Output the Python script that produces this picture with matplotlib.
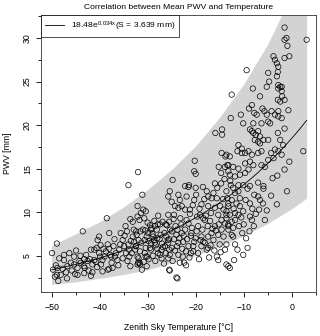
import numpy as np
import matplotlib
matplotlib.use("Agg")
import matplotlib.pyplot as plt
from matplotlib.ticker import MultipleLocator

plt.rcParams['font.family'] = ['Liberation Sans', 'DejaVu Sans']
plt.rcParams['mathtext.default'] = 'regular'

# ---- data ----
points = [
    (-32.0,14.6),(-34.0,13.1),(-38.5,9.3),(-43.5,7.8),(-48.9,6.4),(-49.9,5.3),(-47.4,5.1),(-48.4,4.7),(-44.9,5.6),
    (-49.1,3.9),(-49.7,3.4),(-48.9,2.8),(-49.3,2.6),(-48.6,2.1),(-48.1,2.8),(-46.8,2.4),(-48.8,3.6),(-47.7,3.5),
    (-46.7,3.8),(-45.8,3.3),(-45.3,4.0),(-44.6,3.6),(-43.9,4.2),(-43.3,3.8),(-43.1,3.6),(-42.5,4.4),(-42.0,4.6),
    (-41.5,4.0),(-41.1,4.5),(-41.8,2.7),(-41.5,3.1),(-41.1,5.7),(-40.6,5.9),(-40.1,5.3),(-39.9,4.9),(-39.7,4.0),
    (-39.4,4.5),(-39.0,4.9),(-38.7,5.5),(-38.3,6.3),(-38.0,5.8),(-38.0,7.6),(-37.6,4.9),(-37.5,4.2),(-38.3,3.4),
    (-38.0,3.5),(-39.4,3.2),(-37.1,6.1),(-36.9,6.9),(-36.6,5.3),(-36.3,4.5),(-35.9,5.7),(-35.7,6.3),(-35.6,7.6),
    (-35.2,6.8),(-34.9,6.1),(-34.5,5.3),(-34.3,7.8),(-34.0,6.3),(-33.8,4.9),(-33.6,3.8),(-33.5,6.7),(-33.1,7.2),
    (-32.9,8.0),(-32.6,5.7),(-32.4,6.1),(-32.1,4.9),(-31.7,4.2),(-33.6,9.2),(-33.1,8.9),(-32.1,9.5),(-31.7,9.1),
    (-32.4,7.8),(-32.1,10.7),(-40.4,6.8),(-40.1,7.2),(-41.8,5.7),(-43.2,4.6),(-44.2,4.4),(-46.0,4.2),(-47.4,4.5),
    (-45.3,4.9),(-43.2,3.0),(-44.6,2.8),
    (-31.1,12.0),(-30.9,10.3),(-31.4,9.9),(-30.7,9.3),
    (-24.8,13.7),(-20.2,15.9),(-20.3,14.7),(-20.0,14.4),(-22.2,13.0),(-21.5,12.9),(-21.4,13.1),(-20.0,12.8),
    (-25.4,12.4),(-23.6,12.0),(-23.3,11.4),(-21.9,11.8),(-20.3,11.4),(-25.7,11.8),(-25.0,11.2),(-17.7,12.4),
    (-17.4,11.8),(-18.2,11.5),(-16.7,11.6),(-15.6,11.6),(-16.0,13.3),(-14.7,13.3),(-15.9,19.1),(-14.5,19.5),
    (-14.5,18.9),(-14.6,16.8),(-13.8,16.4),(-15.2,15.2),(-13.9,15.2),(-13.4,15.4),(-13.2,14.7),(-14.7,14.5),
    (-24.3,10.7),(-23.6,10.5),(-25.7,9.7),(-24.5,9.7),(-22.9,10.7),(-22.2,10.3),(-21.2,10.3),(-18.8,10.9),
    (-17.4,10.7),(-16.8,9.9),(-19.1,9.7),(-18.4,9.3),(-18.1,9.1),(-16.0,10.5),(-14.9,10.7),(-14.2,10.3),
    (-13.6,9.7),(-15.3,9.7),(-14.6,9.1),(-13.9,8.7),(-13.2,8.4),(-17.5,8.4),(-16.0,8.4),(-14.6,8.0),(-16.7,7.6),
    (-15.3,7.4),(-16.3,6.8),(-14.2,7.2),(-19.5,8.4),(-19.8,7.8),(-18.8,7.2),(-18.1,6.5),(-21.5,8.7),(-20.8,8.2),
    (-22.2,8.0),(-22.9,7.6),(-24.0,7.4),(-25.0,7.8),(-26.1,7.2),(-23.6,6.5),(-22.6,6.6),(-21.5,6.1),(-20.5,6.1),
    (-25.7,6.5),(-26.4,6.1),(-27.1,5.7),(-27.8,5.3),(-28.5,8.4),(-29.2,8.2),(-28.1,8.0),(-27.4,8.6),(-29.9,7.6),
    (-28.8,7.2),(-30.6,6.8),(-31.3,6.5),(-32.3,7.4),(-31.9,6.8),(-32.5,6.1),(-31.6,5.5),(-30.6,5.3),(-31.9,4.7),
    (-29.5,5.9),(-28.5,6.5),(-27.4,5.1),(-27.1,4.7),(-25.7,4.7),(-25.4,5.1),(-23.6,5.1),(-25.0,5.9),(-23.3,4.2),
    (-22.4,4.2),(-25.4,3.3),(-24.0,2.5),(-32.0,4.2),(-31.6,4.0),(-30.2,3.8),(-18.8,6.1),(-17.7,5.7),(-15.6,4.9),
    (-15.3,4.5),(-13.6,4.0),(-17.4,5.9),(-19.5,5.3),(-20.5,5.5),(-17.4,7.2),(-18.4,6.6),
    (-30.0,8.8),(-29.5,8.5),(-30.5,7.9),(-29.0,7.5),(-28.0,7.0),(-27.5,6.9),(-29.8,6.7),(-28.3,6.2),(-27.0,6.4),
    (-26.5,7.6),(-26.9,8.9),(-27.8,9.6),(-26.0,8.5),(-25.3,8.0),(-24.5,6.9),(-24.2,8.4),(-23.0,8.6),(-23.2,9.3),
    (-21.9,9.1),(-21.0,7.3),(-20.0,7.0),(-19.7,9.5),(-20.3,6.6),(-22.0,5.5),(-24.3,5.6),(-26.2,5.3),(-28.9,5.0),
    (-29.8,4.6),(-30.8,4.3),(-28.4,4.4),(-26.6,4.1),(-24.8,4.4),(-22.7,4.9),(-21.3,4.8),(-19.3,4.6),(-31.0,8.0),
    (-30.2,7.2),(-29.3,6.4),(-28.0,5.8),(-26.8,6.0),(-25.5,6.9),
    (-1.5,31.2),(-1.1,30.0),(-1.5,29.8),(-0.9,29.1),(3.1,29.8),(-0.5,27.9),(-1.5,27.7),(-3.8,27.9),(-3.5,27.5),
    (-3.1,27.1),(-2.8,26.7),(-2.9,26.1),(-9.4,26.3),(-4.9,26.0),(-3.1,25.6),(-2.8,24.6),(-2.4,24.4),(-2.1,24.4),
    (-2.8,24.2),(-4.7,25.0),(-5.2,24.4),(-8.1,24.2),(-2.1,23.9),(-2.0,23.3),(-2.9,22.9),(-2.4,22.7),(-1.5,22.9),
    (-6.6,23.3),(-12.5,23.5),(-8.3,22.3),(-8.9,21.9),(-6.1,21.9),(-5.7,21.6),(-5.2,21.2),(-4.2,21.6),(-3.5,21.2),
    (-2.8,21.6),(-2.8,21.0),(-2.1,20.8),(-10.6,21.2),(-12.7,20.8),(-7.8,21.4),(-7.3,21.2),(-10.1,20.2),(-8.0,20.2),
    (-6.3,20.2),(-4.9,20.4),(-4.5,20.2),(-1.5,19.6),(-2.9,19.1),(-8.7,19.5),(-8.3,19.3),(-8.0,19.1),(-7.5,18.9),
    (-7.0,19.3),(-6.6,18.7),(-7.7,18.3),(-7.0,18.1),(-6.6,17.9),(-5.9,18.3),(-4.9,18.3),(-11.1,17.7),(-10.4,17.3),
    (-11.3,17.0),(-10.4,16.8),(-9.7,16.8),(-13.6,16.6),(-12.9,16.4),(-9.0,17.0),(-8.3,16.6),(-7.0,16.8),(-6.3,17.0),
    (-4.3,16.8),(-3.5,17.2),(-2.8,17.0),(-4.9,16.0),(-3.8,16.2),(-2.1,16.6),(2.4,17.0),(-13.2,15.4),(-12.2,15.2),
    (-11.1,15.0),(-9.7,15.6),(-8.7,15.8),(-8.0,15.4),(-9.0,14.9),(-9.7,14.5),(-6.3,15.4),(-5.6,15.2),(-1.5,14.9),
    (-12.9,14.3),(-11.8,14.1),(-10.8,14.3),(-12.7,13.1),(-12.2,12.8),(-11.1,13.1),(-10.1,13.1),(-8.7,13.0),
    (-9.2,12.7),(-5.9,13.0),(-5.9,12.7),(-13.6,12.4),(-11.8,12.2),(-11.1,12.4),(-7.8,12.0),(-7.0,11.8),(-6.6,11.4),
    (-13.4,11.6),(-12.5,11.4),(-10.8,11.6),(-13.2,11.0),(-13.2,10.7),(-10.8,10.7),(-10.1,10.1),(-8.7,11.0),
    (-3.1,10.9),(-13.6,10.1),(-12.9,9.7),(-11.8,9.9),(-11.1,9.7),(-13.6,9.3),(-12.5,8.9),(-11.8,9.1),(-8.7,9.5),
    (-8.3,9.1),(-5.6,9.1),(-13.2,8.6),(-12.2,8.2),(-13.2,8.0),(-12.5,7.4),(-12.2,7.2),(-11.8,6.3),(-11.3,5.7),
    (-10.1,5.1),(-13.2,3.8),(-12.9,3.6),(-13.9,5.7),(-13.6,6.3),
    # additional points in the dense regions
    (-39.8,6.2),(-39.2,5.8),(-37.8,5.1),(-36.8,4.9),(-36.1,3.9),(-35.2,4.7),(-37.3,3.6),(-40.8,4.3),(-42.8,5.1),
    (-44.0,5.0),(-46.3,5.3),(-47.0,3.1),(-45.1,2.9),(-42.3,3.3),(-40.5,3.7),
    (-34.8,7.3),(-34.2,4.4),(-33.3,5.3),(-32.8,6.6),(-31.5,7.8),(-30.4,5.9),(-30.1,4.9),(-33.9,5.7),(-34.6,8.4),
    (-31.2,3.4),(-30.4,10.1),(-28.6,9.0),(-27.9,8.6),
    (-29.3,8.0),(-26.2,8.6),(-25.5,8.9),(-25.8,6.8),(-25.5,5.7),(-29.3,5.7),(-30.4,4.9),(-32.1,4.0),(-25.5,3.4),
    (-23.8,2.4),(-23.8,8.0),(-27.3,7.4),(-28.7,6.8),
    (-24.6,9.2),(-23.4,7.0),(-22.5,7.3),(-21.8,6.9),(-21.2,9.8),(-20.6,10.8),(-20.9,7.6),(-22.0,3.9),(-21.0,5.3),
    (-23.9,6.1),(-22.8,5.8),
    (-19.2,10.4),(-18.6,8.0),(-17.9,9.6),(-17.0,9.0),(-16.5,8.1),(-15.8,7.9),(-15.2,8.6),(-19.0,6.8),(-16.9,6.2),
    (-16.1,5.6),(-15.0,6.3),(-17.2,4.8),(-19.9,12.0),(-18.5,12.9),(-16.3,12.2),(-15.5,12.8),
    (-14.3,11.5),(-12.1,10.4),(-11.5,11.0),(-10.5,9.4),(-10.0,8.6),(-11.0,8.4),(-10.3,7.6),(-9.5,7.0),(-14.8,5.4),
    (-12.0,4.5),(-9.2,5.9),(-14.0,13.8),(-12.8,13.6),
    (-9.6,11.4),(-8.2,10.4),(-7.5,9.8),(-6.8,10.3),(-6.0,11.0),(-5.2,10.2),(-4.3,11.9),(-7.0,13.4),(-4.0,13.9),
    (-3.0,14.2),(-8.8,7.8),(-7.9,8.4),(-2.4,18.3),(-1.8,17.7),(-0.7,21.7),(-0.5,15.8),(-1.0,12.4),
]
temperature = [p[0] for p in points]
pwv = [p[1] for p in points]

# exponential fit from legend: 18.48 e^(0.034 x)
fit_a = 18.48
fit_b = 0.034
fit_range = (-50.0, 3.1)

# shaded band edges
band_x = [-50, -45, -40, -35, -30, -25, -20, -15, -10, -5, 0, 3.1]
band_upper = [6.2, 7.5, 8.9, 10.6, 12.6, 14.9, 17.6, 20.9, 24.7, 29.3, 35.0, 39.0]
band_lower = [1.7, 2.0, 2.4, 2.85, 3.4, 4.2, 5.0, 6.1, 7.3, 8.7, 10.4, 11.6]

# ---- figure ----
fig = plt.figure(figsize=(3.2, 3.36), dpi=100)
ax = fig.add_axes([41/320, 1-291.7/336, (316-41)/320, (291.7-15)/336])

ax.fill_between(band_x, band_lower, band_upper, color='#d3d3d3', lw=0, zorder=1)
xf = np.linspace(fit_range[0], fit_range[1], 200)
ax.plot(xf, fit_a*np.exp(fit_b*xf), color='black', lw=0.6, zorder=2,
        label=r'18.48e$^{0.034x}$(S = 3.639 mm)')
ax.scatter(temperature, pwv, s=15, facecolors='none', edgecolors='black', linewidths=0.5, zorder=3)

ax.set_xlim(-52.2, 5.05)
ax.set_ylim(0.87, 32.64)
ax.xaxis.set_major_locator(MultipleLocator(10))
ax.xaxis.set_minor_locator(MultipleLocator(5))
ax.yaxis.set_major_locator(MultipleLocator(5))
ax.yaxis.set_minor_locator(MultipleLocator(2.5))
ax.tick_params(axis='both', which='major', direction='out', length=3.6, width=0.6, labelsize=6.3, color='black')
ax.tick_params(axis='both', which='minor', direction='out', length=2.0, width=0.6, color='black')
ax.tick_params(axis='x', which='major', pad=4.5)
ax.tick_params(axis='y', which='major', pad=3.0)
for lab in ax.get_yticklabels():
    lab.set_rotation(90)
    lab.set_va('center')
for sp in ax.spines.values():
    sp.set_linewidth(0.6)
    sp.set_color('#333333')

ax.set_xlabel('Zenith Sky Temperature [°C]', fontsize=6.2, labelpad=8)
ax.set_ylabel('PWV [mm]', fontsize=6.2, labelpad=8)
fig.text(178.5/320, 1-7.5/336, 'Correlation between Mean PWV and Temperature', fontsize=6.1,
         ha='center', va='center')

leg = ax.legend(loc='upper left', bbox_to_anchor=(0, 1), borderaxespad=0, fontsize=6.1,
                frameon=True, fancybox=False, handlelength=2.2, handletextpad=0.8,
                borderpad=0.5)
leg.get_frame().set_edgecolor('black')
leg.get_frame().set_linewidth(0.6)

fig.savefig('out.png', dpi=100)
